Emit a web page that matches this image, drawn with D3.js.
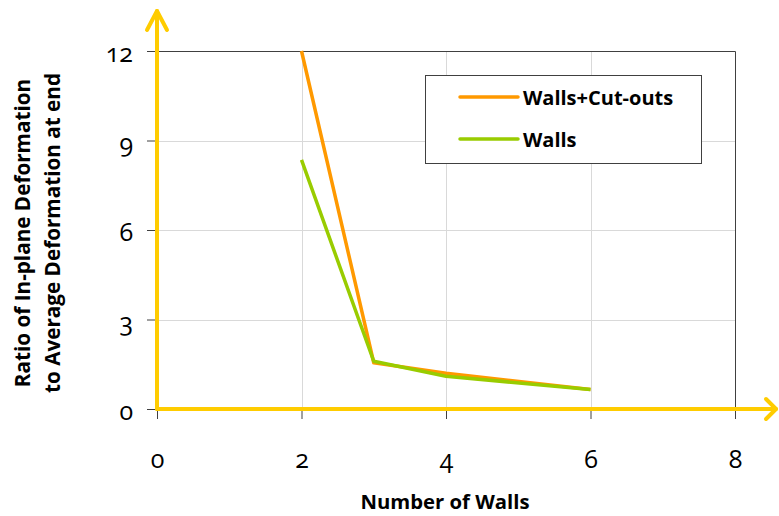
<!DOCTYPE html>
<html>
<head>
<meta charset="utf-8">
<script src="https://cdn.jsdelivr.net/npm/d3@7"></script>
<style>
  html, body { margin: 0; padding: 0; background: #fff; }
  svg { display: block; font-family: "Open Sans", "Noto Sans", sans-serif; }
</style>
</head>
<body>
<svg id="chart" width="779" height="516"></svg>
<script>
// Number of walls on the x axis
const wallCounts = [2, 3, 4, 6];
// Ratio of in-plane deformation to average deformation at end
const wallsCutouts = [12, 1.55, 1.2, 0.65];
const wallsOnly = [8.35, 1.6, 1.1, 0.65];

const xTicks = [0, 2, 4, 6, 8];
const yTicks = [0, 3, 6, 9, 12];

const seriesNames = ["Walls+Cut-outs", "Walls"];
const seriesColors = ["#FF9900", "#99CC00"];

const svg = d3.select("#chart");
const plot = { left: 157, top: 51, right: 735, bottom: 409 };

const x = d3.scaleLinear().domain([0, 8]).range([plot.left, plot.right]);
const y = d3.scaleLinear().domain([0, 12]).range([plot.bottom, plot.top]);

// gridlines
const grid = svg.append("g").attr("stroke", "#d9d9d9").attr("stroke-width", 1);
grid.selectAll("line.h").data(yTicks.filter(d => d > 0 && d < 12)).join("line")
  .attr("x1", plot.left).attr("x2", plot.right)
  .attr("y1", d => Math.round(y(d)) + 0.5).attr("y2", d => Math.round(y(d)) + 0.5);
grid.selectAll("line.v").data(xTicks.filter(d => d > 0 && d < 8)).join("line")
  .attr("y1", plot.top).attr("y2", plot.bottom)
  .attr("x1", d => Math.round(x(d)) + 0.5).attr("x2", d => Math.round(x(d)) + 0.5);

// plot frame (top and right edges)
svg.append("path")
  .attr("d", `M${plot.left},${plot.top + 0.5}H${plot.right + 0.5}V${plot.bottom}`)
  .attr("fill", "none").attr("stroke", "#404040").attr("stroke-width", 1);

// axes with outside ticks and old-style figures
const tickFont = "'Open Sans', 'Noto Sans', sans-serif";
const yAxis = svg.append("g")
  .attr("transform", `translate(${plot.left},0)`)
  .call(d3.axisLeft(y).tickValues(yTicks).tickSize(10).tickPadding(14).tickFormat(d3.format("d")))
  .attr("font-family", tickFont).attr("font-size", 25);
yAxis.select(".domain").remove();
yAxis.selectAll(".tick line").attr("stroke", "#404040");
yAxis.selectAll(".tick text").attr("fill", "#000")
  .attr("dy", "0.42em").style("font-variant-numeric", "oldstyle-nums");

const xAxis = svg.append("g")
  .attr("transform", `translate(0,${plot.bottom})`)
  .call(d3.axisBottom(x).tickValues(xTicks).tickSize(10).tickFormat(d3.format("d")))
  .attr("font-family", tickFont).attr("font-size", 25);
xAxis.select(".domain").remove();
xAxis.selectAll(".tick line").attr("stroke", "#404040");
xAxis.selectAll(".tick text").attr("fill", "#000")
  .attr("y", 59).attr("dy", 0).style("font-variant-numeric", "oldstyle-nums");

// data lines
const line = d3.line().x(d => x(d[0])).y(d => y(d[1]));
[wallsCutouts, wallsOnly].forEach((vals, i) => {
  svg.append("path")
    .datum(wallCounts.map((c, j) => [c, vals[j]]))
    .attr("d", line)
    .attr("fill", "none")
    .attr("stroke", seriesColors[i])
    .attr("stroke-width", 3.5)
    .attr("stroke-linejoin", "round");
});

// yellow arrow axes
const axisColor = "#FFCC00";
const arrows = svg.append("g").attr("stroke", axisColor).attr("stroke-width", 4)
  .attr("fill", "none").attr("stroke-linecap", "round").attr("stroke-linejoin", "round");
arrows.append("path").attr("d", `M${plot.left},${plot.bottom}V11`);
arrows.append("path").attr("d", `M147,30L${plot.left},11L167,30`);
arrows.append("path").attr("d", `M${plot.left},${plot.bottom}H776`);
arrows.append("path").attr("d", `M766,399L776,${plot.bottom}L766,419`);

// legend
const legend = svg.append("g");
legend.append("rect")
  .attr("x", 425.5).attr("y", 75.5).attr("width", 276).attr("height", 88)
  .attr("fill", "#fff").attr("stroke", "#404040").attr("stroke-width", 1);
seriesNames.forEach((name, i) => {
  const ly = 97 + i * 42;
  legend.append("line")
    .attr("x1", 460).attr("x2", 518).attr("y1", ly).attr("y2", ly)
    .attr("stroke", seriesColors[i]).attr("stroke-width", 3.5).attr("stroke-linecap", "round");
  legend.append("text")
    .attr("x", 523).attr("y", ly + 7.5)
    .attr("font-size", 20).attr("font-weight", "bold").attr("fill", "#000")
    .text(name);
});

// axis titles
svg.append("text")
  .attr("x", 445).attr("y", 508.5)
  .attr("text-anchor", "middle").attr("font-size", 20.3).attr("font-weight", "bold")
  .text("Number of Walls");

const yTitle = svg.append("text")
  .attr("transform", `translate(0,233) rotate(-90)`)
  .attr("text-anchor", "middle").attr("font-size", 20.7).attr("font-weight", "bold");
yTitle.append("tspan").attr("x", 0).attr("y", 29.5).text("Ratio of In-plane Deformation");
yTitle.append("tspan").attr("x", 0).attr("y", 60).text("to Average Deformation at end");
</script>
</body>
</html>
